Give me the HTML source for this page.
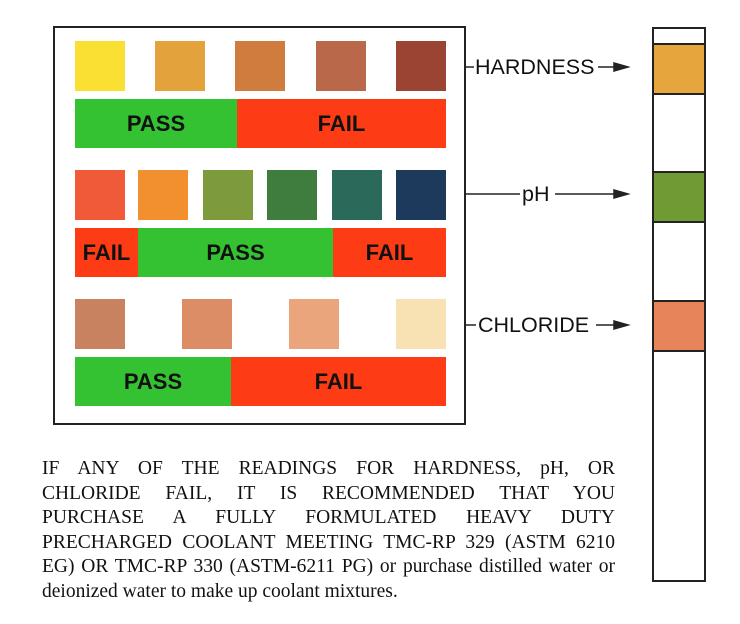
<!DOCTYPE html>
<html><head><style>
body{margin:0;width:740px;height:624px;background:#fff;position:relative;overflow:hidden;font-family:"Liberation Sans",Arial,sans-serif}
.a{position:absolute}
.sq{position:absolute;width:50px;height:50px}
.bar{position:absolute;height:49px;display:flex;align-items:center;justify-content:center;font-weight:bold;font-size:22px;color:#111}
.g{background:#35c232}.r{background:#fd3b14}
.lbl{position:absolute;font-size:21.5px;color:#111;line-height:22px}
.t{position:absolute;left:42px;width:573px;font-family:"Liberation Serif",serif;font-size:19.5px;color:#111;line-height:24.5px}
.t div{text-align:justify;text-align-last:justify;white-space:nowrap;height:24.5px}
</style></head><body>
<div class="a" style="left:53px;top:26px;width:409px;height:395px;border:2px solid #222"></div>
<div class="sq" style="left:75px;top:41px;background:#fbe034"></div>
<div class="sq" style="left:155px;top:41px;background:#e3a23b"></div>
<div class="sq" style="left:235px;top:41px;background:#cf7c3e"></div>
<div class="sq" style="left:316px;top:41px;background:#b9694a"></div>
<div class="sq" style="left:396px;top:41px;background:#9b4433"></div>
<div class="bar g" style="left:75px;top:99px;width:162px">PASS</div>
<div class="bar r" style="left:237px;top:99px;width:209px">FAIL</div>
<div class="sq" style="left:75px;top:170px;background:#f05a38"></div>
<div class="sq" style="left:138px;top:170px;background:#f2902f"></div>
<div class="sq" style="left:203px;top:170px;background:#7d9a3c"></div>
<div class="sq" style="left:267px;top:170px;background:#3f7d3f"></div>
<div class="sq" style="left:332px;top:170px;background:#2b6a5a"></div>
<div class="sq" style="left:396px;top:170px;background:#1d3a5c"></div>
<div class="bar r" style="left:75px;top:228px;width:63px">FAIL</div>
<div class="bar g" style="left:138px;top:228px;width:195px">PASS</div>
<div class="bar r" style="left:333px;top:228px;width:113px">FAIL</div>
<div class="sq" style="left:75px;top:299px;background:#c98260"></div>
<div class="sq" style="left:182px;top:299px;background:#dc8d65"></div>
<div class="sq" style="left:289px;top:299px;background:#eba57c"></div>
<div class="sq" style="left:396px;top:299px;background:#f8e1b2"></div>
<div class="bar g" style="left:75px;top:357px;width:156px">PASS</div>
<div class="bar r" style="left:231px;top:357px;width:215px">FAIL</div>

<div class="a" style="left:652px;top:27px;width:50px;height:551px;border:2px solid #222"></div>
<div class="a" style="left:652px;top:43px;width:50px;height:48px;border:2px solid #222;background:#e7a63d"></div>
<div class="a" style="left:652px;top:171px;width:50px;height:48px;border:2px solid #222;background:#6f9a34"></div>
<div class="a" style="left:652px;top:300px;width:50px;height:48px;border:2px solid #222;background:#e8845a"></div>

<svg class="a" style="left:0;top:0" width="740" height="624">
<g stroke="#222" stroke-width="1.5" fill="#222">
<line x1="464" y1="67" x2="474" y2="67"/><line x1="598" y1="67" x2="618" y2="67"/><polygon points="628,67 614,63 614,71"/>
<line x1="464" y1="194" x2="520" y2="194"/><line x1="555" y1="194" x2="618" y2="194"/><polygon points="628,194 614,190 614,198"/>
<line x1="464" y1="325" x2="476" y2="325"/><line x1="596" y1="325" x2="618" y2="325"/><polygon points="628,325 614,321 614,329"/>
</g></svg>
<div class="lbl" style="left:475px;top:56px">HARDNESS</div>
<div class="lbl" style="left:522px;top:183px">pH</div>
<div class="lbl" style="left:478px;top:314px">CHLORIDE</div>

<div class="t" style="top:457px">
<div>IF ANY OF THE READINGS FOR HARDNESS, pH, OR</div>
<div>CHLORIDE FAIL, IT IS RECOMMENDED THAT YOU</div>
<div>PURCHASE A FULLY FORMULATED HEAVY DUTY</div>
<div>PRECHARGED COOLANT MEETING TMC-RP 329 (ASTM 6210</div>
<div>EG) OR TMC-RP 330 (ASTM-6211 PG) or purchase distilled water or</div>
<div style="text-align-last:left">deionized water to make up coolant mixtures.</div>
</div>
</body></html>
